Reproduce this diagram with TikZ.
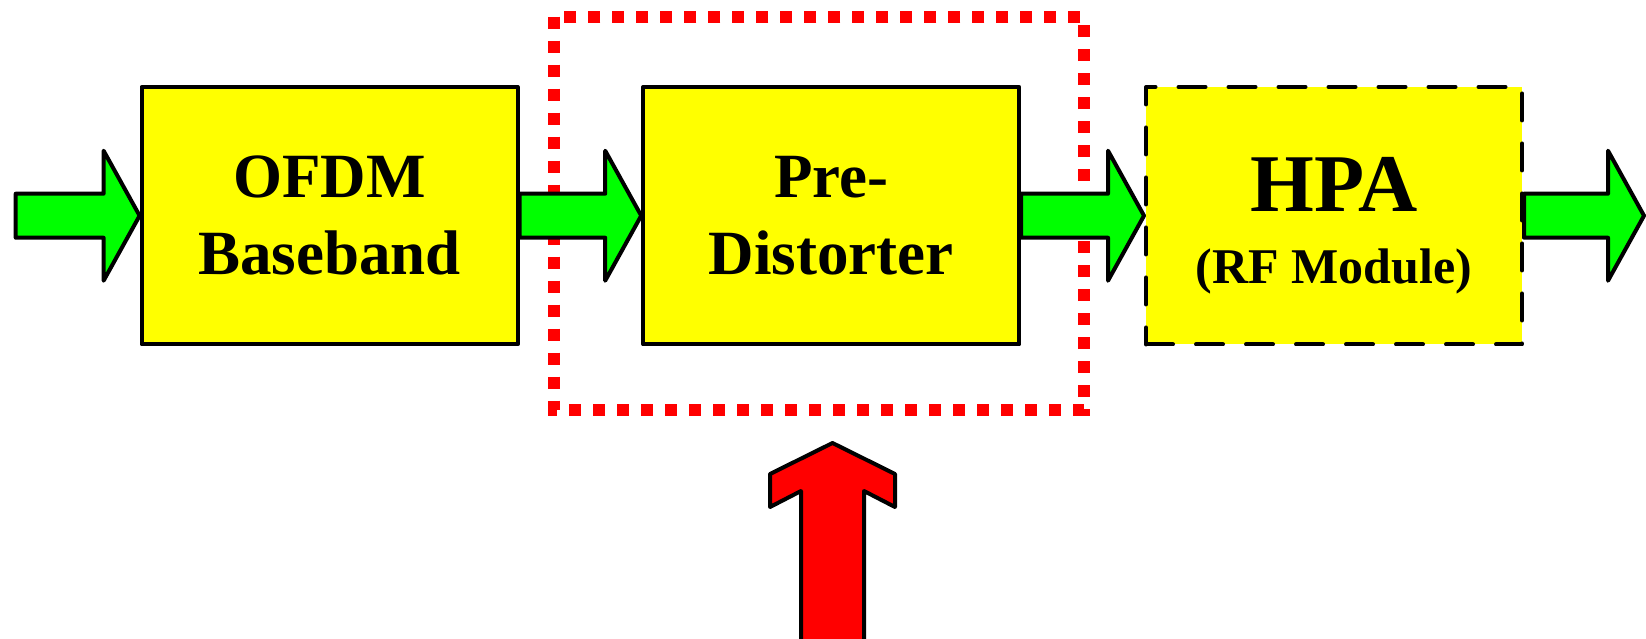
\documentclass[tikz,border=0pt]{standalone}
\usepackage{fontspec}
\setmainfont{Liberation Serif}
\usetikzlibrary{calc}
\definecolor{boxyellow}{RGB}{255,255,0}
\definecolor{arrgreen}{RGB}{0,255,0}
\definecolor{dotred}{RGB}{255,0,0}
\tikzset{
  block/.style={draw=black, fill=boxyellow, line width=4pt, minimum width=376pt, minimum height=257.5pt, inner sep=0pt, line join=round},
  hpabox/.style={block, line width=4pt, dash pattern=on 27pt off 23pt, line cap=round},
  garrow/.style={draw=black, fill=arrgreen, line width=4pt, line join=round},
  rarrow/.style={draw=black, fill=dotred, line width=4pt, line join=round},
  dotframe/.style={draw=dotred, line width=12pt, dash pattern=on 12pt off 12pt},
  bigtxt/.style={font=\bfseries\fontsize{63}{76}\selectfont, anchor=base, inner sep=0pt},
  hpatxt/.style={font=\bfseries\fontsize{82}{90}\selectfont, anchor=base, inner sep=0pt},
  subtxt/.style={font=\bfseries\fontsize{50}{60}\selectfont, anchor=base, inner sep=0pt}
}
\newcommand{\greenarrow}[2]{%
  \filldraw[garrow] let \p1=(#1), \p2=(#2) in
    (\x1,\y1+22pt) -- (\x2-36pt,\y1+22pt) -- (\x2-36pt,\y1+65pt) -- (\x2,\y1)
    -- (\x2-36pt,\y1-65pt) -- (\x2-36pt,\y1-22pt) -- (\x1,\y1-22pt) -- cycle;}
\begin{document}
\begin{tikzpicture}[x=1pt,y=-1pt]
\useasboundingbox (0,0) rectangle (1646,638);
% dotted red frame round the pre-distorter
\draw[dotframe] (554.3,16.7) rectangle (1084,410);
% blocks
\node[block] (ofdm) at (329.6,215.7) {};
\node[block] (pd) at (831.2,215.7) {};
\node[hpabox] (hpa) at (1334,215.7) {};
\coordinate (in) at (15.7,215.7);
\coordinate (out) at (1644,215.7);
% green block arrows
\greenarrow{in}{ofdm.west}
\greenarrow{ofdm.east}{pd.west}
\greenarrow{pd.east}{hpa.west}
\greenarrow{hpa.east}{out}
% texts
\node[bigtxt] (t1) at ($(ofdm.center)+(0,-18.2)$) {OFDM};
\node[bigtxt] (t2) at ($(ofdm.center)+(0,58.3)$) {Baseband};
\node[bigtxt] (t3) at ($(pd.center)+(0,-18.2)$) {Pre-};
\node[bigtxt] (t4) at ($(pd.center)+(0,58.3)$) {Distorter};
\node[hpatxt] (t5) at ($(hpa.center)+(0,-4)$) {HPA};
\node[subtxt] (t6) at ($(hpa.center)+(0,67.5)$) {(RF Module)};
% red block arrow from below
\filldraw[rarrow] (832.5,443) -- (895,474) -- (895,507) -- (864,491) -- (864,650)
  -- (801,650) -- (801,491) -- (770,507) -- (770,474) -- cycle;
\end{tikzpicture}
\end{document}
